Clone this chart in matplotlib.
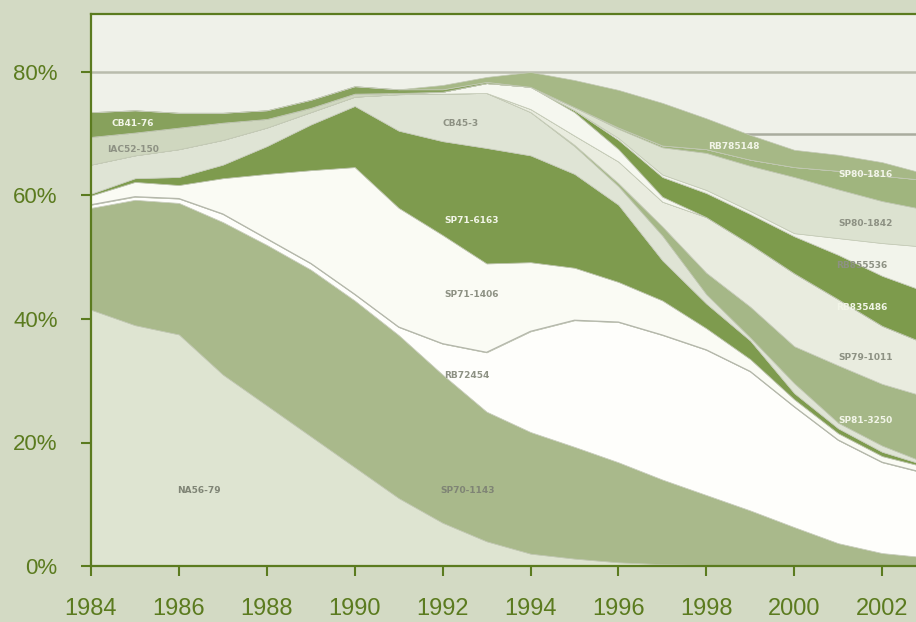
import numpy as np
import matplotlib.pyplot as plt
from matplotlib.ticker import FuncFormatter

plt.rcParams['font.family'] = ['Liberation Sans', 'DejaVu Sans']

years = list(range(1984, 2004))

# share of cultivated area (%) per variety, bottom of the stack first
na56_79 = [41.5, 39.0, 37.5, 31.0, 26.0, 21.0, 16.0, 11.0, 7.0, 4.0, 2.0, 1.2, 0.6, 0.3, 0.2, 0.1, 0, 0, 0, 0]
sp70_1143 = [16.5, 20.3, 21.3, 24.7, 26.0, 27.0, 27.0, 26.4, 24.0, 21.0, 19.7, 18.1, 16.2, 13.7, 11.3, 8.9, 6.3, 3.7, 2.1, 1.4]
rb72454 = [0.5, 0.5, 0.7, 1.3, 1.0, 1.0, 1.0, 1.3, 5.0, 9.6, 16.3, 20.5, 22.7, 23.4, 23.5, 22.5, 19.5, 16.7, 14.7, 13.6]
sp71_1406 = [1.5, 2.4, 2.2, 5.8, 10.5, 15.1, 20.6, 19.3, 17.6, 14.4, 11.2, 8.5, 6.5, 5.6, 3.5, 2.0, 1.2, 1.1, 1.0, 1.0]
sp71_6163 = [0.3, 0.6, 1.3, 2.2, 4.5, 7.4, 9.9, 12.5, 15.2, 18.7, 17.3, 15.2, 12.5, 6.5, 4.0, 3.0, 1.0, 0.8, 0.7, 0.3]
cb45_3 = [4.7, 3.7, 4.5, 4.0, 3.0, 2.0, 1.5, 5.9, 7.7, 8.9, 7.0, 4.5, 3.0, 4.0, 1.5, 0.5, 1.6, 0.9, 1.0, 0.4]
sp81_3250 = [0] * 11 + [0.2, 0.5, 1.5, 3.5, 5.0, 6.0, 9.3, 10.0, 10.7]
sp79_1011 = [0] * 10 + [0.5, 1.5, 3.5, 4.0, 9.0, 10.1, 11.8, 10.7, 9.4, 8.6]
iac52_150 = [4.5, 3.7, 3.5, 2.8, 1.4, 0.7, 0.5, 0.2] + [0] * 12
others = [0] * 8 + [0.3, 1.6, 3.6, 3.8, 2.0, 0.8] + [0] * 6
rb835486 = [0] * 11 + [0.3, 1.5, 3.2, 3.9, 4.9, 6.0, 7.2, 8.1, 8.4]
rb855536 = [0] * 12 + [0.3, 0.4, 0.5, 0.5, 0.5, 2.7, 5.3, 7.3]
sp80_1842 = [0] * 11 + [0.5, 1.5, 4.4, 6.0, 7.3, 9.1, 7.9, 6.8, 6.0]
sp80_1816 = [0] * 12 + [0.2, 0.3, 0.6, 1.0, 1.6, 3.0, 4.1, 4.8]
cb41_76 = [4.0, 3.6, 2.4, 1.6, 1.4, 1.3, 1.2, 0.6, 0.4, 0.2] + [0] * 10
rb785148 = [0] * 8 + [0.7, 0.8, 2.4, 4.4, 6.1, 6.9, 5.0, 4.0, 2.8, 2.6, 2.2, 1.0]

layers = [na56_79, sp70_1143, rb72454, sp71_1406, sp71_6163, cb45_3, sp81_3250,
          sp79_1011, iac52_150, others, rb835486, rb855536, sp80_1842,
          sp80_1816, cb41_76, rb785148]
colors = ['#dee4d1', '#a9b98b', '#fefefb', '#fafbf4', '#7e9b4e', '#dfe4d5',
          '#a5b787', '#e9ecdf', '#cfd7bf', '#f5f7ef', '#7d9b4c', '#f2f4eb',
          '#dce2d0', '#a0b57e', '#87a15c', '#a6b886']

# name, x, y, text colour
labels = [
    ('CB41-76', 1984.95, 71.7, '#f2f5e8'),
    ('IAC52-150', 1984.95, 67.4, '#8d9183'),
    ('CB45-3', 1992.42, 71.6, '#8d9183'),
    ('SP71-6163', 1992.65, 56.0, '#f2f5e8'),
    ('SP71-1406', 1992.65, 43.9, '#8d9183'),
    ('RB72454', 1992.56, 30.8, '#8d9183'),
    ('NA56-79', 1986.46, 12.3, '#7f8475'),
    ('SP70-1143', 1992.56, 12.3, '#7f8475'),
    ('RB785148', 1998.63, 68.0, '#f2f5e8'),
    ('SP80-1816', 2001.63, 63.4, '#f2f5e8'),
    ('SP80-1842', 2001.63, 55.5, '#8d9183'),
    ('RB855536', 2001.54, 48.7, '#8d9183'),
    ('RB835486', 2001.54, 41.8, '#f2f5e8'),
    ('SP79-1011', 2001.63, 33.8, '#8d9183'),
    ('SP81-3250', 2001.63, 23.5, '#f2f5e8'),
]

olive = '#5b7b1f'

fig = plt.figure(figsize=(9.16, 6.22), dpi=100)
fig.patch.set_facecolor('#d3dac4')
ax = fig.add_axes([91 / 916, 1 - 566 / 622, 1 - 91 / 916, (566 - 14) / 622])
ax.set_facecolor('#eff1e9')

ax.axhline(80, color='#b9bcad', lw=1.8, zorder=0.5)
ax.axhline(70, color='#a9ac9e', lw=1.8, zorder=0.5)

ax.stackplot(years, *layers, colors=colors, edgecolor='#c3c9b5', linewidth=0.5, zorder=1)

# thin grey rule along the top of RB72454
tops = np.cumsum(np.array(layers), axis=0)
ax.plot(years, tops[2], color='#b4b7ab', lw=0.9, zorder=2)

for name, x, y, c in labels:
    ax.text(x, y, name, color=c, fontsize=6.5, ha='center', va='center',
            fontweight='bold', family=['Liberation Sans Narrow', 'DejaVu Sans'], zorder=3)

ax.set_xlim(1984, 1984 + (916 - 91) / 43.95)
ax.set_ylim(0, (566 - 14) / 6.175)
ax.set_xticks(range(1984, 2003, 2))
ax.set_yticks(range(0, 81, 20))
ax.yaxis.set_major_formatter(FuncFormatter(lambda v, p: '%d%%' % v))

for side in ['left', 'top', 'bottom']:
    ax.spines[side].set_color(olive)
    ax.spines[side].set_linewidth(1.6)
ax.spines['right'].set_visible(False)

ax.tick_params(axis='both', colors=olive, direction='out', length=7, width=1.5)
ax.tick_params(axis='y', labelsize=16, pad=17)
ax.tick_params(axis='x', labelsize=17, pad=16)

fig.savefig('out.png', dpi=100, facecolor=fig.get_facecolor())
